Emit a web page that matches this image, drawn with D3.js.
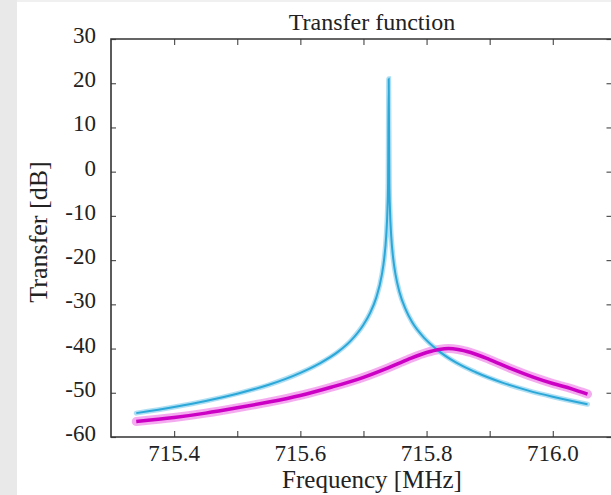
<!DOCTYPE html>
<html>
<head>
<meta charset="utf-8">
<script src="https://cdn.jsdelivr.net/npm/d3@7"></script>
<style>
  html, body { margin: 0; padding: 0; background: #fff; }
  svg { display: block; font-family: "Liberation Serif", "DejaVu Serif", serif; }
</style>
</head>
<body>
<script>
// tick values
var freqMajor = [715.4, 715.6, 715.8, 716.0];
var freqMinor = [715.4, 715.5, 715.6, 715.7, 715.8, 715.9, 716.0];
var dbTicks = [30, 20, 10, 0, -10, -20, -30, -40, -50, -60];

// blue series (sharp resonance)
var blueFreq = [715.34, 715.40, 715.45, 715.50, 715.55, 715.60, 715.63, 715.66, 715.68, 715.70,
                715.71, 715.72, 715.729, 715.733, 715.736, 715.738, 715.739, 715.740, 715.741,
                715.742, 715.744, 715.747, 715.751, 715.757, 715.767, 715.777, 715.797, 715.817,
                715.847, 715.877, 715.92, 715.96, 716.00, 716.055];
var blueDb = [-54.6, -53.2, -51.85, -50.2, -48.2, -45.5, -43.4, -40.7, -38.2, -34.6,
              -32.1, -28.6, -23.4, -19.5, -14.6, -8.6, -2.6, 21, -2.6,
              -8.6, -14.6, -19.5, -23.4, -27.2, -31.2, -34.0, -37.7, -40.3,
              -43.2, -45.3, -47.7, -49.45, -50.9, -52.6];

// magenta series (broad resonance)
var magFreq = [715.34, 715.40, 715.45, 715.50, 715.55, 715.60, 715.65, 715.70, 715.74, 715.77,
               715.80, 715.82, 715.835, 715.85, 715.87, 715.90, 715.93, 715.97, 716.00, 716.03, 716.055];
var magDb = [-56.5, -55.6, -54.6, -53.4, -52.1, -50.6, -48.7, -46.5, -44.3, -42.5,
             -40.9, -40.2, -40.0, -40.2, -40.9, -42.5, -44.3, -46.5, -47.9, -49.1, -50.3];

var W = 611, H = 495;
var margin = {left: 111, right: 611.5, top: 39, bottom: 437};

var svg = d3.select("body").append("svg")
    .attr("width", W)
    .attr("height", H);

// grey strip at the left edge
svg.append("rect").attr("x", 0).attr("y", 0).attr("width", 17).attr("height", H).attr("fill", "#e9e9e9");
svg.append("rect").attr("x", 17).attr("y", 0).attr("width", W - 17).attr("height", 2).attr("fill", "#f0f0f0");

var x = d3.scaleLinear().domain([715.3, 716.093]).range([margin.left, margin.right]);
var y = d3.scaleLinear().domain([-60, 30]).range([margin.bottom, margin.top]);

// axes (ticks inward)
svg.append("g")
    .attr("transform", "translate(0," + margin.bottom + ")")
    .call(d3.axisTop(x).tickValues(freqMinor).tickSize(6).tickFormat(""))
    .call(function(g) { g.select(".domain").remove(); });

svg.append("g")
    .attr("transform", "translate(0," + margin.top + ")")
    .call(d3.axisBottom(x).tickValues(freqMinor).tickSize(6).tickFormat(""))
    .call(function(g) { g.select(".domain").remove(); });

svg.append("g")
    .attr("transform", "translate(" + margin.left + ",0)")
    .call(d3.axisRight(y).tickValues(dbTicks).tickSize(5).tickFormat(""))
    .call(function(g) { g.select(".domain").remove(); });

svg.append("g")
    .attr("transform", "translate(" + margin.right + ",0)")
    .call(d3.axisLeft(y).tickValues(dbTicks).tickSize(5).tickFormat(""))
    .call(function(g) { g.select(".domain").remove(); });

svg.selectAll(".tick line").attr("stroke", "#555").attr("stroke-width", 1.2);

// box
svg.append("path")
    .attr("d", "M" + (margin.right + 5) + "," + margin.top + "H" + margin.left
        + "V" + margin.bottom + "H" + (margin.right + 5))
    .attr("fill", "none")
    .attr("stroke", "#333")
    .attr("stroke-width", 1.6);

// tick labels
svg.selectAll(".xlab")
    .data(freqMajor)
    .enter()
    .append("text")
        .attr("x", function(d) { return x(d); })
        .attr("y", 461)
        .attr("text-anchor", "middle")
        .attr("font-size", 23)
        .attr("fill", "#222")
        .text(function(d) { return d.toFixed(1); });

svg.selectAll(".ylab")
    .data(dbTicks)
    .enter()
    .append("text")
        .attr("x", 96)
        .attr("y", function(d) { return y(d) + 4; })
        .attr("text-anchor", "end")
        .attr("font-size", 23)
        .attr("fill", "#222")
        .text(function(d) { return d; });

// titles
svg.append("text")
    .attr("x", 372).attr("y", 30)
    .attr("text-anchor", "middle")
    .attr("font-size", 24)
    .attr("fill", "#222")
    .text("Transfer function");

svg.append("text")
    .attr("x", 372).attr("y", 488)
    .attr("text-anchor", "middle")
    .attr("font-size", 25)
    .attr("fill", "#222")
    .text("Frequency [MHz]");

svg.append("text")
    .attr("transform", "translate(47,232) rotate(-90)")
    .attr("text-anchor", "middle")
    .attr("font-size", 26)
    .attr("fill", "#222")
    .text("Transfer [dB]");

// curves
var line = d3.line()
    .x(function(d) { return x(d[0]); })
    .y(function(d) { return y(d[1]); })
    .curve(d3.curveMonotoneX);

var bluePts = blueFreq.map(function(f, i) { return [f, blueDb[i]]; });
var magPts = magFreq.map(function(f, i) { return [f, magDb[i]]; });

svg.append("path").attr("d", line(magPts))
    .attr("fill", "none").attr("stroke", "#f39cec").attr("stroke-width", 9)
    .attr("stroke-linecap", "round").attr("opacity", 0.85);
svg.append("path").attr("d", line(bluePts))
    .attr("fill", "none").attr("stroke", "#8fd2ee").attr("stroke-width", 5)
    .attr("stroke-linecap", "round").attr("opacity", 0.7);
svg.append("path").attr("d", line(bluePts))
    .attr("fill", "none").attr("stroke", "#2ba7d8").attr("stroke-width", 2);
svg.append("path").attr("d", line(magPts))
    .attr("fill", "none").attr("stroke", "#cc00c4").attr("stroke-width", 3.5);
</script>
</body>
</html>
